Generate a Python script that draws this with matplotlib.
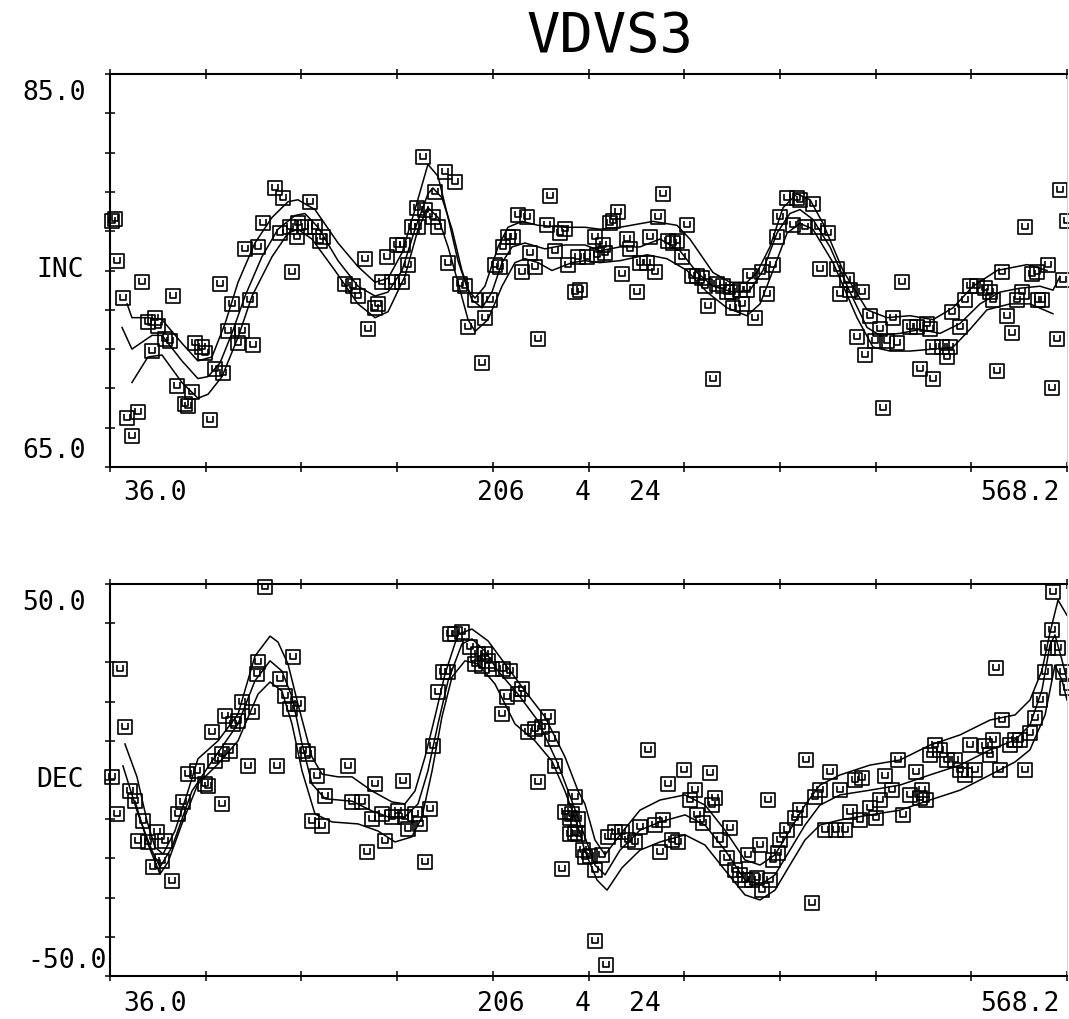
import matplotlib
matplotlib.use("Agg")
import matplotlib.pyplot as plt
import numpy as np
from matplotlib.path import Path

plt.rcParams['font.family'] = ['DejaVu Sans Mono', 'DejaVu Sans']

# ---- data (depth, value) ----
depth_min, depth_max = 36.0, 568.2
inc_range = (65.0, 85.0)
dec_range = (-50.0, 50.0)

inc_samples = [
    (37.1, 77.5), (38.8, 77.6), (39.9, 75.5), (43.2, 73.6), (53.8, 74.4), (71.0, 73.7),
    (57.1, 72.4), (61.0, 72.6), (62.7, 72.2), (66.6, 71.5), (69.4, 71.4), (59.4, 70.9),
    (83.3, 71.3), (87.2, 71.1), (88.8, 70.8), (73.3, 69.1), (81.6, 68.8), (77.7, 68.2),
    (79.4, 68.1), (45.5, 67.5), (51.6, 67.8), (48.2, 66.6), (91.6, 67.4), (94.4, 70.0),
    (98.8, 69.8), (103.8, 73.3), (113.9, 73.5), (101.6, 71.9), (109.4, 71.9), (107.2, 71.3),
    (115.5, 71.2), (97.2, 74.3), (111.1, 76.1), (118.3, 76.2), (121.1, 77.4), (127.8, 79.2),
    (132.2, 78.7), (147.2, 78.5), (130.5, 76.9), (136.1, 77.2), (140.5, 77.4), (144.4, 77.2),
    (150.0, 77.2), (154.4, 76.7), (140.0, 76.7), (152.8, 76.5), (137.2, 74.9), (177.8, 75.6),
    (166.7, 74.3), (171.1, 74.2), (173.9, 73.7), (185.0, 73.3), (183.4, 73.1), (179.5, 72.0),
    (190.0, 75.7), (195.6, 76.3), (198.9, 76.3), (201.7, 75.3), (187.3, 74.4), (192.8, 74.4),
    (198.4, 74.4), (210.1, 80.8), (222.3, 80.0), (227.9, 79.5), (216.7, 79.0), (206.7, 78.2),
    (211.2, 78.1), (215.6, 77.7), (207.3, 77.2), (203.9, 77.2), (218.4, 77.2), (224.0, 75.4),
    (230.6, 74.3), (233.4, 74.2), (239.0, 73.5), (247.3, 73.5), (235.1, 72.1), (244.5, 72.6),
    (242.9, 70.3), (250.1, 75.3), (252.9, 75.2), (254.5, 76.2), (257.3, 76.7), (260.1, 76.7),
    (262.9, 77.8), (267.9, 77.7), (280.7, 78.8), (269.6, 75.9), (265.1, 74.9), (272.3, 75.2),
    (279.0, 77.3), (286.2, 76.9), (289.0, 77.1), (283.5, 76.0), (290.7, 75.3), (294.6, 73.9),
    (274.0, 71.5), (296.3, 75.7), (297.4, 74.0), (301.3, 75.7), (306.8, 75.8), (305.7, 76.7),
    (310.2, 76.3), (311.3, 75.9), (314.1, 77.4), (315.7, 77.5), (318.5, 78.0), (343.5, 78.9),
    (323.5, 76.6), (325.2, 76.1), (320.7, 74.8), (329.1, 73.9), (330.7, 75.4), (334.6, 75.4),
    (336.3, 76.7), (339.1, 74.9), (340.7, 77.7), (346.3, 76.5), (349.1, 76.4), (351.3, 76.5),
    (354.1, 75.7), (356.9, 77.3), (359.6, 74.7), (362.4, 74.7), (365.2, 74.6), (366.9, 74.2),
    (368.5, 73.2), (373.5, 74.3), (376.9, 74.2), (379.1, 73.9), (381.9, 73.9), (382.5, 73.1),
    (387.5, 73.3), (386.3, 74.0), (390.2, 74.0), (394.7, 72.6), (391.9, 74.7), (401.4, 73.8),
    (398.6, 74.9), (404.7, 75.3), (371.3, 69.5), (406.9, 76.7), (408.6, 77.7), (412.5, 78.7),
    (418.0, 78.7), (419.7, 78.6), (426.9, 78.4), (415.8, 77.3), (422.5, 77.2), (429.7, 77.2),
    (435.3, 76.9), (430.8, 75.1), (440.3, 75.1), (445.9, 74.5), (442.0, 73.8), (447.5, 74.0),
    (454.2, 73.9), (451.4, 71.6), (458.6, 72.7), (464.2, 72.0), (461.4, 71.4), (468.1, 71.4),
    (473.7, 71.3), (455.9, 70.7), (471.4, 72.6), (476.4, 74.4), (480.9, 72.1), (484.8, 72.1),
    (490.3, 72.3), (492.0, 72.0), (493.7, 71.1), (498.7, 71.1), (503.1, 71.1), (501.5, 70.6),
    (486.4, 70.0), (493.7, 69.5), (465.9, 68.0), (504.2, 72.9), (508.7, 72.1), (511.5, 73.5),
    (514.2, 74.2), (518.1, 74.2), (522.6, 74.1), (525.4, 73.9), (527.0, 73.5), (532.0, 74.9),
    (534.8, 72.7), (537.6, 71.8), (529.3, 69.9), (540.4, 73.5), (543.2, 73.9), (544.8, 77.2),
    (548.7, 74.8), (551.5, 74.9), (554.3, 73.5), (552.1, 73.5), (557.6, 75.3), (562.6, 71.5),
    (559.8, 69.0), (564.3, 79.1), (568.2, 77.5), (566.0, 74.5),
]

inc_upper = [
    (45.5, 73.3), (48.2, 72.6), (57.1, 72.6), (64.9, 72.5), (76.0, 71.3), (84.9, 70.4),
    (92.7, 70.6), (100.0, 72.3), (107.2, 74.4), (116.6, 76.4), (126.1, 77.7), (135.0, 78.5),
    (140.5, 78.6), (150.0, 78.1), (162.8, 76.4), (173.9, 75.2), (183.4, 74.4), (190.6, 74.6),
    (198.4, 75.9), (205.6, 78.1), (212.8, 80.4), (218.4, 79.8), (224.0, 77.7), (229.5, 75.5),
    (235.1, 74.0), (239.0, 73.6), (244.5, 74.2), (251.8, 76.2), (257.3, 77.2), (265.1, 77.5),
    (274.0, 77.3), (289.0, 77.2), (300.1, 77.2), (308.5, 77.1), (319.6, 77.2), (338.0, 77.5),
    (351.3, 77.3), (358.5, 76.6), (371.3, 74.9), (380.8, 74.4), (390.2, 74.4), (395.8, 74.9),
    (403.0, 76.2), (410.3, 78.2), (418.0, 78.9), (425.3, 78.6), (432.5, 77.4), (443.6, 75.0),
    (457.0, 73.0), (468.1, 72.6), (480.9, 72.7), (493.7, 72.5), (504.8, 73.1), (515.9, 74.2),
    (529.3, 75.0), (546.0, 75.3), (557.1, 75.0),
]
inc_mean = [
    (42.7, 72.1), (48.2, 71.0), (59.4, 71.7), (64.9, 71.7), (76.0, 70.4), (84.9, 69.5),
    (90.5, 69.6), (97.2, 70.3), (103.8, 71.8), (111.1, 73.7), (120.5, 75.7), (129.4, 77.1),
    (138.9, 77.8), (144.4, 77.9), (151.7, 77.2), (162.8, 75.5), (173.9, 74.2), (183.4, 73.7),
    (190.6, 73.9), (198.4, 75.0), (205.6, 77.1), (212.8, 78.9), (215.6, 79.2), (220.6, 78.7),
    (226.2, 77.1), (231.7, 75.0), (237.3, 73.5), (242.9, 73.1), (248.4, 73.9), (254.0, 75.4),
    (259.6, 76.2), (266.8, 76.4), (277.9, 76.1), (289.0, 76.3), (300.1, 76.3), (308.5, 76.0),
    (319.6, 76.2), (330.7, 76.2), (341.9, 76.6), (353.0, 76.0), (362.4, 74.9), (371.3, 74.2),
    (382.5, 73.9), (391.9, 74.0), (399.1, 75.0), (406.9, 76.9), (414.1, 77.9), (419.7, 78.1),
    (426.9, 77.6), (436.4, 76.2), (447.5, 73.9), (457.0, 72.1), (464.2, 71.7), (475.3, 71.8),
    (486.4, 72.0), (497.6, 71.8), (508.7, 72.3), (519.8, 73.3), (530.9, 73.9), (542.1, 74.1),
    (553.2, 74.2), (560.4, 74.0), (564.3, 74.7),
]
inc_lower = [
    (48.2, 69.3), (57.1, 70.6), (64.9, 70.7), (76.0, 69.3), (84.9, 68.5), (90.5, 68.7),
    (98.3, 69.6), (107.2, 71.6), (115.0, 73.7), (126.1, 75.7), (135.0, 76.9), (140.5, 77.1),
    (148.3, 76.6), (161.1, 75.0), (173.9, 73.3), (183.4, 72.6), (190.6, 72.9), (200.0, 74.7),
    (207.3, 77.1), (212.8, 78.2), (218.4, 77.7), (224.0, 76.2), (229.5, 74.4), (235.1, 72.5),
    (239.0, 71.9), (246.2, 72.5), (254.0, 74.2), (261.2, 75.4), (266.8, 75.6), (274.0, 75.4),
    (281.8, 75.0), (292.9, 75.4), (300.1, 75.5), (308.5, 75.4), (319.6, 75.5), (334.6, 75.8),
    (345.7, 75.6), (356.9, 75.0), (368.0, 73.9), (379.1, 73.1), (390.2, 72.7), (397.5, 73.3),
    (404.7, 75.0), (412.5, 76.9), (419.7, 77.4), (426.9, 77.1), (438.1, 75.4), (451.4, 72.6),
    (460.3, 71.1), (469.8, 70.9), (480.9, 70.9), (493.7, 71.0), (504.8, 71.1), (514.2, 72.0),
    (523.7, 73.0), (536.5, 73.3), (547.6, 73.3), (560.4, 72.8),
]

dec_samples = [
    (122.2, 49.2), (41.6, 28.3), (44.3, 13.5), (37.1, 0.8), (39.9, -8.7), (47.1, -2.8),
    (49.9, -5.4), (54.3, -10.5), (51.6, -15.6), (57.1, -15.8), (62.1, -13.3), (66.6, -15.6),
    (59.9, -22.2), (64.9, -20.7), (70.5, -25.8), (73.8, -8.7), (76.6, -5.6), (79.4, 1.5),
    (84.4, 2.3), (88.8, -1.0), (90.5, -1.5), (94.4, 4.8), (98.3, 6.6), (102.7, 7.4),
    (92.7, 12.2), (100.0, 16.3), (104.4, 14.3), (107.2, 15.1), (109.4, 19.9), (115.0, 17.3),
    (98.3, -6.1), (112.7, 3.6), (128.9, 3.6), (117.7, 27.0), (118.3, 30.1), (137.8, 31.4),
    (130.5, 25.8), (133.3, 21.4), (136.1, 18.1), (140.5, 19.4), (143.3, 7.4), (146.1, 6.6),
    (151.1, 1.0), (155.6, -4.1), (148.3, -10.5), (153.9, -11.7), (168.4, 3.6), (170.6, -5.6),
    (176.1, -5.6), (183.4, -1.0), (181.7, -9.9), (178.9, -18.4), (188.9, -15.6), (187.3, -8.7),
    (192.8, -9.4), (196.2, -7.9), (200.0, -9.4), (198.9, -0.3), (201.7, -12.5), (208.4, -11.2),
    (205.6, -8.7), (214.0, -7.4), (211.2, -20.9), (215.6, 8.7), (218.4, 22.4), (221.2, 27.6),
    (224.0, 27.6), (225.1, 37.2), (227.9, 37.2), (231.7, 37.8), (236.2, 33.9), (240.6, 32.1),
    (244.5, 32.1), (246.2, 30.4), (239.0, 29.6), (242.9, 29.1), (248.4, 28.3), (254.5, 28.3),
    (258.4, 27.8), (256.8, 21.2), (262.9, 21.9), (265.1, 23.2), (254.0, 16.8), (268.4, 12.2),
    (272.3, 13.0), (276.2, 13.5), (279.6, 16.1), (281.8, 10.5), (283.5, 3.6), (274.0, -0.5),
    (294.6, -4.3), (289.0, -8.2), (292.9, -8.7), (296.3, -9.9), (291.8, -13.8), (296.3, -13.8),
    (287.4, -22.7), (300.1, -19.6), (291.8, -9.7), (294.6, -13.5), (299.0, -17.9), (302.9, -19.4),
    (305.7, -23.0), (309.6, -19.1), (312.9, -14.5), (316.8, -13.3), (320.7, -13.3), (324.1, -15.3),
    (328.0, -15.8), (330.7, -12.0), (335.2, 7.7), (339.1, -11.5), (341.9, -18.4), (343.5, -10.2),
    (346.3, -1.0), (348.5, -15.3), (351.9, -15.8), (355.2, 2.6), (358.5, -5.1), (361.3, -2.6),
    (362.4, -8.9), (365.8, -11.0), (369.7, 1.8), (370.8, -6.4), (372.4, -4.6), (375.2, -15.3),
    (379.1, -19.9), (380.8, -12.2), (383.6, -23.0), (386.3, -24.2), (389.1, -25.5), (390.8, -19.1),
    (393.0, -25.5), (395.8, -25.0), (397.5, -16.6), (398.6, -28.1), (401.9, -5.1), (403.0, -25.5),
    (404.7, -20.4), (407.5, -18.6), (408.6, -15.3), (412.5, -12.8), (416.9, -9.7), (419.7, -7.7),
    (423.0, 5.1), (426.4, -31.4), (428.1, -4.3), (430.8, -2.6), (433.6, -12.8), (436.4, 2.0),
    (439.7, -12.8), (442.0, -2.6), (444.7, -12.8), (447.5, -8.2), (450.3, 0.0), (453.1, -10.2),
    (454.2, 0.5), (458.6, -7.1), (462.0, -9.7), (464.2, -5.1), (467.0, 1.0), (470.9, -2.6),
    (474.2, 5.1), (477.0, -8.9), (480.9, -3.8), (484.2, 2.0), (486.4, -4.6), (487.6, -2.6),
    (489.8, -5.1), (492.0, 6.4), (494.8, 8.9), (497.6, 7.7), (501.5, 5.1), (505.9, 5.1),
    (508.7, 2.6), (511.5, 1.3), (514.2, 8.9), (517.0, 2.6), (522.6, 8.7), (525.4, 6.4),
    (527.0, 10.2), (528.7, 28.6), (530.9, 2.6), (532.0, 15.3), (536.5, 8.9), (539.3, 10.2),
    (542.1, 10.2), (544.8, 2.6), (547.6, 12.0), (550.4, 15.8), (553.2, 20.4), (556.0, 27.6),
    (557.6, 33.7), (559.8, 38.3), (560.4, 48.0), (563.2, 33.7), (566.0, 27.6), (568.2, 23.5),
    (305.7, -41.1), (311.8, -47.2),
]

dec_upper = [
    (44.3, 9.2), (51.0, 0.8), (56.6, -10.5), (61.0, -17.1), (65.5, -18.9), (72.1, -13.0),
    (79.4, -2.8), (84.9, 5.4), (96.1, 10.0), (107.2, 16.8), (116.6, 31.6), (125.0, 36.7),
    (129.4, 35.2), (135.0, 29.6), (140.5, 19.4), (148.3, 5.9), (153.9, 1.5), (162.8, 0.8),
    (170.6, 0.8), (181.7, -2.8), (192.8, -5.6), (200.0, -6.1), (205.6, -2.8), (211.2, 5.9),
    (216.7, 16.1), (222.3, 27.0), (229.5, 37.2), (237.3, 38.5), (246.2, 35.5), (255.7, 29.6),
    (266.8, 22.7), (277.9, 16.1), (289.0, 5.9), (296.3, -2.8), (300.1, -6.1), (305.7, -15.3),
    (311.3, -19.1), (319.6, -14.0), (330.7, -7.7), (341.9, -5.1), (355.8, -3.8), (366.9, -6.4),
    (378.0, -12.8), (389.1, -20.4), (397.5, -21.7), (405.8, -19.1), (414.1, -12.8), (422.5, -6.4),
    (430.8, -1.3), (442.0, 1.3), (458.6, 3.8), (475.3, 5.1), (492.0, 8.9), (508.7, 11.5),
    (525.4, 15.3), (539.3, 16.6), (547.6, 20.4), (554.3, 28.0), (558.7, 37.5), (563.2, 45.9),
    (568.2, 42.0),
]
dec_mean = [
    (43.2, 3.6), (51.6, -8.7), (59.4, -18.1), (63.8, -22.2), (70.5, -17.1), (81.6, -2.8),
    (92.7, 4.8), (107.2, 14.3), (116.6, 25.3), (125.0, 30.4), (131.6, 27.8), (137.2, 21.2),
    (142.8, 9.2), (148.3, -1.0), (155.6, -4.8), (170.6, -5.4), (181.7, -7.9), (190.6, -9.4),
    (200.0, -9.4), (207.3, -6.1), (212.8, 2.3), (218.4, 14.3), (224.0, 25.3), (231.7, 34.7),
    (237.3, 36.0), (244.5, 32.9), (251.8, 27.8), (262.9, 21.9), (274.0, 15.1), (285.1, 4.1),
    (292.9, -5.4), (300.1, -14.5), (305.7, -21.7), (311.3, -24.2), (319.6, -17.9), (330.7, -12.8),
    (341.9, -10.7), (355.8, -8.9), (366.9, -11.5), (378.0, -17.9), (389.1, -25.5), (397.5, -26.8),
    (405.8, -24.2), (414.1, -17.9), (422.5, -11.5), (430.8, -6.4), (442.0, -3.8), (458.6, -2.6),
    (475.3, -1.3), (492.0, 1.3), (508.7, 3.8), (525.4, 7.7), (539.3, 10.2), (547.6, 14.0),
    (554.3, 23.0), (558.7, 34.4), (561.5, 37.0), (565.4, 30.6), (568.2, 25.5),
]
dec_lower = [
    (49.9, -5.4), (57.1, -16.3), (63.8, -24.0), (68.3, -20.9), (76.0, -11.2), (84.9, -1.0),
    (96.1, 4.1), (107.2, 10.0), (118.3, 21.9), (125.0, 25.0), (131.6, 22.7), (137.2, 14.3),
    (142.8, 2.3), (150.0, -8.7), (159.5, -10.7), (173.9, -11.2), (185.0, -13.0), (194.5, -15.8),
    (203.9, -14.5), (209.5, -9.4), (215.1, 2.3), (220.6, 16.1), (226.2, 26.3), (233.4, 30.4),
    (240.6, 29.6), (250.1, 24.5), (261.2, 14.3), (272.3, 10.0), (281.8, 4.8), (289.0, -2.8),
    (296.3, -12.0), (300.1, -18.1), (306.8, -25.5), (312.4, -28.1), (320.7, -22.4), (330.7, -17.9),
    (341.9, -15.8), (355.8, -14.0), (366.9, -16.6), (378.0, -23.0), (389.1, -29.3), (397.5, -30.6),
    (405.8, -28.1), (414.1, -21.7), (422.5, -15.3), (430.8, -11.5), (442.0, -10.2), (458.6, -8.9),
    (475.3, -7.7), (492.0, -5.1), (508.7, -2.6), (525.4, 1.3), (539.3, 4.6), (547.6, 7.7),
    (556.0, 16.6), (561.5, 29.3), (565.4, 25.5), (568.2, 20.4),
]

title = 'VDVS3'
x_labels = ['36.0', '206', '4', '24', '568.2']

# box marker with a small "U" drawn inside (plotter symbol)
box_u = Path(
    [(-1, -1), (1, -1), (1, 1), (-1, 1), (-1, -1),
     (-0.42, 0.55), (-0.42, -0.3), (0.42, -0.3), (0.42, 0.55)],
    [Path.MOVETO, Path.LINETO, Path.LINETO, Path.LINETO, Path.CLOSEPOLY,
     Path.MOVETO, Path.LINETO, Path.LINETO, Path.LINETO])

W, H = 1069, 1019
fig = plt.figure(figsize=(W / 100, H / 100), dpi=100)
ax_inc = fig.add_axes([110 / W, 1 - 467 / H, 957 / W, 393 / H])
ax_dec = fig.add_axes([110 / W, 1 - 976 / H, 957 / W, 392 / H])


def draw_panel(ax, samples, curves, ylim):
    for c in curves:
        cx, cy = zip(*c)
        ax.plot(cx, cy, color='black', lw=1.1, solid_joinstyle='round')
    sx, sy = zip(*samples)
    ax.plot(sx, sy, ls='none', marker=box_u, ms=9.5, mfc='none', mec='black',
            mew=1.2, clip_on=False)
    ax.set_xlim(depth_min, depth_max)
    ax.set_ylim(*ylim)
    ax.set_xticks(np.linspace(depth_min, depth_max, 11))
    ax.set_yticks(np.linspace(ylim[0], ylim[1], 11))
    ax.tick_params(which='both', direction='inout', length=7, width=1.1,
                   top=True, labelbottom=False, labelleft=False, color='black')
    for s in ['left', 'bottom', 'top']:
        ax.spines[s].set_linewidth(1.5)
    ax.spines['right'].set_color('0.8')
    ax.spines['right'].set_linewidth(0.6)


draw_panel(ax_inc, inc_samples, [inc_upper, inc_mean, inc_lower], inc_range)
draw_panel(ax_dec, dec_samples, [dec_upper, dec_mean, dec_lower], dec_range)

fs = 19
fig.text(610 / W, 1 - 37 / H, title, ha='center', va='center', fontsize=40)

# y labels
fig.text(86 / W, 1 - 93 / H, '85.0', ha='right', va='center', fontsize=fs)
fig.text(84 / W, 1 - 270 / H, 'INC', ha='right', va='center', fontsize=fs)
fig.text(86 / W, 1 - 451 / H, '65.0', ha='right', va='center', fontsize=fs)
fig.text(86 / W, 1 - 603 / H, '50.0', ha='right', va='center', fontsize=fs)
fig.text(84 / W, 1 - 780 / H, 'DEC', ha='right', va='center', fontsize=fs)
fig.text(107 / W, 1 - 961 / H, '-50.0', ha='right', va='center', fontsize=fs)

# x labels for both panels
label_x = [155, 501, 583, 645, 1020]
for ypix in (493, 1004):
    for lbl, xp in zip(x_labels, label_x):
        fig.text(xp / W, 1 - ypix / H, lbl, ha='center', va='center', fontsize=fs)

fig.savefig('out.png', dpi=100, facecolor='white')
